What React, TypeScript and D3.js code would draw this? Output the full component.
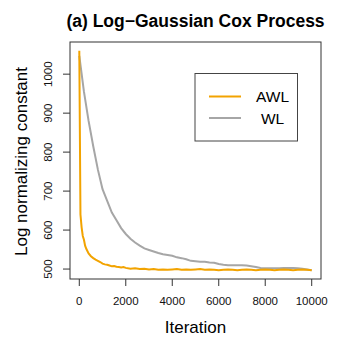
import React from "react";
import * as d3 from "d3";

const awlIter = [0, 50, 100, 150, 200, 250, 300, 400, 500, 600, 700, 800, 900, 1000, 1100, 1200, 1300, 1400, 1500, 1600, 1700, 1800, 1900, 2000, 2200, 2400, 2600, 2800, 3000, 3200, 3400, 3600, 3800, 4000, 4200, 4400, 4600, 4800, 5000, 5200, 5400, 5600, 5800, 6000, 6200, 6400, 6600, 6800, 7000, 7200, 7400, 7600, 7800, 8000, 8200, 8400, 8600, 8800, 9000, 9200, 9400, 9600, 9800, 10000];
const awlValues = [1060, 640, 607, 585, 575, 560, 552, 540, 533, 528, 524, 521, 518, 514, 512, 511, 509, 507, 508, 506, 505, 504, 505, 503, 501, 502, 500, 501, 499, 500, 498, 499, 498, 499, 500, 498, 499, 498, 499, 500, 498, 499, 498, 497, 498, 499, 498, 497, 498, 499, 498, 497, 498, 499, 498, 497, 498, 499, 498, 497, 498, 499, 498, 497];

const wlIter = [0, 200, 400, 600, 800, 1000, 1200, 1400, 1600, 1800, 2000, 2200, 2400, 2600, 2800, 3000, 3200, 3400, 3600, 3800, 4000, 4200, 4400, 4600, 4800, 5000, 5200, 5400, 5600, 5800, 6000, 6200, 6400, 6600, 6800, 7000, 7200, 7400, 7600, 7800, 8000, 8200, 8400, 8600, 8800, 9000, 9200, 9400, 9600, 9800, 10000];
const wlValues = [1047, 955, 880, 815, 755, 705, 675, 645, 625, 605, 590, 578, 568, 560, 553, 549, 545, 541, 538, 536, 534, 530, 528, 525, 521, 520, 519, 519, 517, 516, 513, 511, 510, 510, 510, 510, 509, 507, 505, 503, 502, 502, 502, 502, 503, 503, 503, 502, 501, 499, 497];

const xTicks = [0, 2000, 4000, 6000, 8000, 10000];
const yTicks = [500, 600, 700, 800, 900, 1000];
const seriesNames = ["AWL", "WL"];
const seriesColors = ["#F2A300", "#A6A6A6"];

export default function App() {
  const W = 349, H = 349;
  const left = 70, right = 321, top = 42, bottom = 279;
  const allY = [...awlValues, ...wlValues];
  const yMin = d3.min(allY)!, yMax = d3.max(allY)!;
  const yExt = (yMax - yMin) * 0.04;
  const xExt = 10000 * 0.04;
  const x = d3.scaleLinear().domain([0 - xExt, 10000 + xExt]).range([left, right]);
  const y = d3.scaleLinear().domain([yMin - yExt, yMax + yExt]).range([bottom, top]);
  const line = d3.line<[number, number]>().x(d => x(d[0])).y(d => y(d[1]));
  const awl: [number, number][] = awlIter.map((t, i) => [t, awlValues[i]]);
  const wl: [number, number][] = wlIter.map((t, i) => [t, wlValues[i]]);
  const font = "'Liberation Sans', Arial, Helvetica, sans-serif";
  const axisCol = "#333";
  const legX = 195, legY = 73.5, legW = 102.5, legH = 67.5;
  return (
    <svg width={W} height={H} style={{ position: "absolute", left: 0, top: 0 }} fontFamily={font}>
      <rect width={W} height={H} fill="#fff" />
      <text x={195.5} y={27} textAnchor="middle" fontSize={17.5} fontWeight="bold" fill="#000">(a) Log−Gaussian Cox Process</text>
      <path d={line(wl)!} fill="none" stroke={seriesColors[1]} strokeWidth={2} />
      <path d={line(awl)!} fill="none" stroke={seriesColors[0]} strokeWidth={2} />
      <rect x={left} y={top} width={right - left} height={bottom - top} fill="none" stroke={axisCol} strokeWidth={1} />
      {xTicks.map(t => (
        <g key={t}>
          <line x1={x(t)} x2={x(t)} y1={bottom} y2={bottom + 7} stroke={axisCol} />
          <text x={x(t)} y={304.5} textAnchor="middle" fontSize={11.5} fill="#111">{t}</text>
        </g>
      ))}
      {yTicks.map(t => (
        <g key={t}>
          <line x1={left - 7} x2={left} y1={y(t)} y2={y(t)} stroke={axisCol} />
          <text transform={`translate(52,${y(t)}) rotate(-90)`} textAnchor="middle" fontSize={11.5} fill="#111">{t}</text>
        </g>
      ))}
      <text x={195.5} y={332.5} textAnchor="middle" fontSize={17} fill="#000">Iteration</text>
      <text transform={`translate(27,${(top + bottom) / 2 + 1}) rotate(-90)`} textAnchor="middle" fontSize={17} fill="#000">Log normalizing constant</text>
      <rect x={legX} y={legY} width={legW} height={legH} fill="#fff" stroke="#444" strokeWidth={1} />
      {seriesNames.map((n, i) => (
        <g key={n}>
          <line x1={209} x2={241} y1={96.5 + i * 21.5} y2={96.5 + i * 21.5} stroke={seriesColors[i]} strokeWidth={2} />
          <text x={272.5} y={102 + i * 21.5} textAnchor="middle" fontSize={15.5} fill="#000">{n}</text>
        </g>
      ))}
    </svg>
  );
}
